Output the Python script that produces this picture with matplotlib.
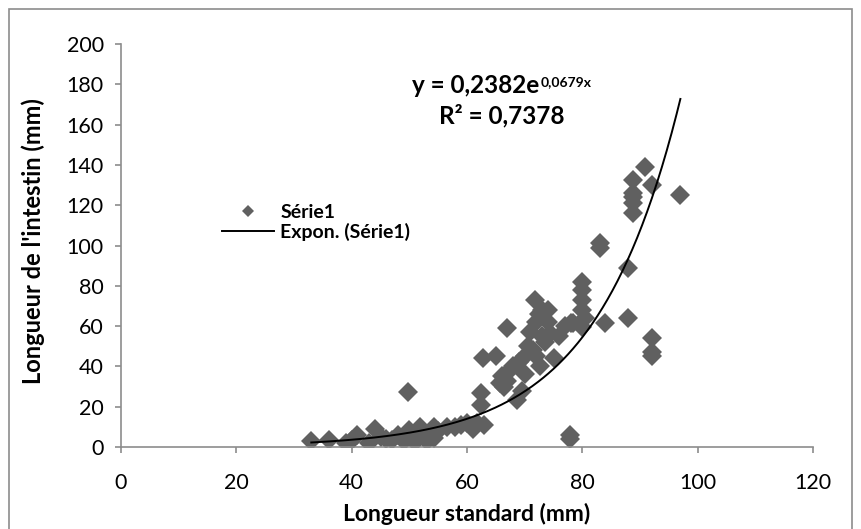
import numpy as np
import matplotlib
matplotlib.use("Agg")
import matplotlib.pyplot as plt
from matplotlib.patches import Rectangle

plt.rcParams['font.family'] = ['Lato', 'DejaVu Sans']

# Data
standard_length = [33, 36, 39, 40, 41, 43, 44, 45, 46, 47, 48, 49, 49.8, 50, 51, 51.8,
                   52, 53, 54.2, 54.2, 55, 56.5, 57.9, 59, 60, 61, 61.7,
                   62.5, 62.5, 62.8, 63, 65, 65.7, 66, 66.5, 66.9, 67, 67.5, 68, 68.6,
                   69, 69.5, 70, 70, 70.5, 71, 71.5, 71.8, 72, 72, 72.5, 72.7, 73,
                   73, 73.5, 74, 74.1, 74.4, 75, 76, 77, 77.9, 77.9, 78.1, 78.4,
                   79.9, 79.9, 79.9, 79.9, 80, 80.5, 83.1, 83.1, 83.9, 88, 88,
                   88.8, 88.8, 88.8, 88.8, 88.8, 90.9, 92, 92, 92, 92, 96.9]
intestine_length = [3, 3.5, 2, 3.5, 6, 2, 9, 5, 4, 3.5, 6, 3, 27.4, 8.4, 2.6, 10,
                    7, 3, 10, 4.3, 8, 10, 10, 11, 11.8, 9, 11.8,
                    26.6, 20.8, 44, 11, 45, 31.6, 35, 30, 33, 58.9, 38, 40, 23.3,
                    42, 28, 45, 36, 50, 57, 48, 73, 62, 45, 66, 40, 68,
                    55, 52, 62, 68, 56.6, 44, 55, 60, 6, 4, 61.5, 61.5,
                    82, 78, 73, 68, 59.7, 64, 101, 99, 61.5, 88.7, 64,
                    132.5, 126, 121, 116, 124, 139, 130, 54, 47.3, 45, 125]

fit_a = 0.2382
fit_b = 0.0679
fit_x_range = [33, 97]
equation_main = "y = 0,2382e"
equation_exp = "0,0679x"
r2_text = "R² = 0,7378"

x_ticks = [0, 20, 40, 60, 80, 100, 120]
y_ticks = [0, 20, 40, 60, 80, 100, 120, 140, 160, 180, 200]

W, H = 861, 529
fig = plt.figure(figsize=(W / 100, H / 100), dpi=100)
ax_h = 447 - 44
ax_w = 813 - 121
ax = fig.add_axes([121 / W, (H - 447) / H, ax_w / W, ax_h / H])

grey = '#606060'
ax.plot(standard_length, intestine_length, linestyle='none', marker='D',
        markersize=10, color=grey, markeredgewidth=0, label='Série1', zorder=2)

xf = np.linspace(fit_x_range[0], fit_x_range[1], 300)
ax.plot(xf, fit_a * np.exp(fit_b * xf), color='black', lw=1.4,
        label='Expon. (Série1)', zorder=3)

ax.set_xlim(0, 120)
ax.set_ylim(0, 200)
ax.set_xticks(x_ticks)
ax.set_yticks(y_ticks)
for s in ['top', 'right']:
    ax.spines[s].set_visible(False)
for s in ['left', 'bottom']:
    ax.spines[s].set_color('#8c8c8c')
    ax.spines[s].set_linewidth(1.2)
ax.tick_params(axis='both', direction='out', length=4.5, width=1.2, color='#8c8c8c',
               labelsize=15.5, labelcolor='black')
ax.tick_params(axis='x', pad=14)
ax.tick_params(axis='y', pad=8)

ax.set_xlabel('Longueur standard (mm)', fontsize=16.5, fontweight='bold')
ax.xaxis.label.set_va('baseline')
ax.xaxis.set_label_coords(0.5, (447 - 521) / ax_h)
ax.set_ylabel("Longueur de l'intestin (mm)", fontsize=17, fontweight='bold')
ax.yaxis.label.set_va('center')
ax.yaxis.set_label_coords((33 - 121) / ax_w, (447 - 241) / ax_h)

t_main = fig.text(412 / W, 1 - 93 / H, equation_main, fontsize=17.5, fontweight='bold',
                  ha='left', va='baseline')
fig.canvas.draw()
bb = t_main.get_window_extent()
fig.text(bb.x1 / W + 1 / W, 1 - 86 / H, equation_exp, fontsize=10, fontweight='bold',
         ha='left', va='baseline')
fig.text(502 / W, 1 - 123 / H, r2_text, fontsize=17.5, fontweight='bold',
         ha='center', va='baseline')

leg = ax.legend(loc='upper left', bbox_to_anchor=((214 - 121) / ax_w, (447 - 196) / ax_h),
                frameon=False, fontsize=14, handlelength=2.7, handletextpad=0.3,
                labelspacing=0.1, borderaxespad=0, markerscale=0.6)
for t in leg.get_texts():
    t.set_fontweight('bold')

fig.patches.append(Rectangle((9 / W, -20 / H), (W - 18) / W, (H - 9 + 20) / H,
                             transform=fig.transFigure, fill=False,
                             edgecolor='#8c8c8c', lw=1.2))

fig.savefig('out.png', dpi=100)
